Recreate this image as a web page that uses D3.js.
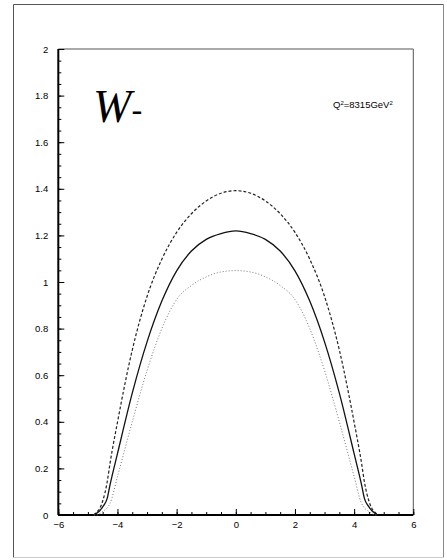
<!DOCTYPE html>
<html>
<head>
<meta charset="utf-8">
<script src="https://cdn.jsdelivr.net/npm/d3@7"></script>
<style>
  html, body { margin: 0; padding: 0; background: #fff; }
  svg { display: block; }
</style>
</head>
<body>
<svg id="chart" width="447" height="560"></svg>
<script>
// Rapidity grid shared by the three curves
const rapidity = [-4.8, -4.7, -4.6, -4.5, -4.35, -4.25, -4.0, -3.5, -3.0, -2.5, -2.0, -1.5, -1.0, -0.5,
                  0, 0.5, 1.0, 1.5, 2.0, 2.5, 3.0, 3.5, 4.0, 4.25, 4.35, 4.5, 4.6, 4.7, 4.8];

// Upper curve (dashed)
const upperValues = [0, 0.012, 0.028, 0.06, 0.14, 0.223, 0.398, 0.708, 0.938, 1.098, 1.213, 1.293, 1.348, 1.381,
                     1.392, 1.381, 1.348, 1.293, 1.213, 1.098, 0.938, 0.708, 0.398, 0.223, 0.14, 0.06, 0.028, 0.012, 0];

// Central curve (solid)
const centralValues = [0, 0.008, 0.018, 0.035, 0.07, 0.13, 0.263, 0.523, 0.743, 0.918, 1.048, 1.133, 1.183, 1.208,
                       1.219, 1.208, 1.183, 1.133, 1.048, 0.918, 0.743, 0.523, 0.263, 0.13, 0.07, 0.035, 0.018, 0.008, 0];

// Lower curve (dotted)
const lowerValues = [0, 0, 0.006, 0.015, 0.03, 0.05, 0.165, 0.40, 0.62, 0.80, 0.925, 0.985, 1.022, 1.043,
                     1.049, 1.043, 1.022, 0.985, 0.925, 0.80, 0.62, 0.40, 0.165, 0.05, 0.03, 0.015, 0.006, 0, 0];

const xMajorTicks = [-6, -4, -2, 0, 2, 4, 6];
const xTickLabels = ["\u22126", "\u22124", "\u22122", "0", "2", "4", "6"];
const yMajorTicks = [0, 0.2, 0.4, 0.6, 0.8, 1.0, 1.2, 1.4, 1.6, 1.8, 2.0];
const yTickLabels = ["0", "0.2", "0.4", "0.6", "0.8", "1", "1.2", "1.4", "1.6", "1.8", "2"];
const xMinorTicks = d3.range(-6, 6.001, 0.5);
const yMinorTicks = d3.range(0, 2.001, 0.05);

const SANS = "'Liberation Sans', Arial, Helvetica, sans-serif";
const SERIF = "'Liberation Serif', 'DejaVu Serif', serif";

const svg = d3.select("#chart");

// Page frame
svg.append("line").attr("x1", 13.5).attr("y1", 4.5).attr("x2", 13.5).attr("y2", 557.5)
  .attr("stroke", "#555").attr("stroke-width", 1);
svg.append("line").attr("x1", 13.5).attr("y1", 4.5).attr("x2", 443.5).attr("y2", 4.5)
  .attr("stroke", "#555").attr("stroke-width", 1);
svg.append("line").attr("x1", 443.5).attr("y1", 4.5).attr("x2", 443.5).attr("y2", 557.5)
  .attr("stroke", "#888").attr("stroke-width", 1);
svg.append("line").attr("x1", 13.5).attr("y1", 557.5).attr("x2", 443.5).attr("y2", 557.5)
  .attr("stroke", "#ccc").attr("stroke-width", 1);

const x = d3.scaleLinear().domain([-6, 6]).range([58.3, 413.3]);
const y = d3.scaleLinear().domain([0, 2]).range([515, 49]);

// Plot box: thin top/right edges
svg.append("line").attr("x1", x(-6)).attr("y1", y(2)).attr("x2", x(6)).attr("y2", y(2))
  .attr("stroke", "#555").attr("stroke-width", 1);
svg.append("line").attr("x1", x(6)).attr("y1", y(2)).attr("x2", x(6)).attr("y2", y(0))
  .attr("stroke", "#555").attr("stroke-width", 1);

// Minor ticks (inward)
svg.append("g").attr("transform", `translate(0,${y(0)})`)
  .call(d3.axisBottom(x).tickValues(xMinorTicks).tickSize(-3).tickFormat(""))
  .call(g => g.select(".domain").remove());
svg.append("g").attr("transform", `translate(${x(-6)},0)`)
  .call(d3.axisLeft(y).tickValues(yMinorTicks).tickSize(-3).tickFormat(""))
  .call(g => g.select(".domain").remove());

// Major ticks with labels
const xAxis = svg.append("g").attr("transform", `translate(0,${y(0)})`)
  .call(d3.axisBottom(x).tickValues(xMajorTicks).tickSize(-6).tickPadding(6)
    .tickFormat((d, i) => xTickLabels[i]));
xAxis.select(".domain").remove();
xAxis.attr("font-size", null).attr("font-family", null);
xAxis.selectAll("text").style("font-size", "9.5px").style("font-family", SANS).attr("fill", "#000");

const yAxis = svg.append("g").attr("transform", `translate(${x(-6)},0)`)
  .call(d3.axisLeft(y).tickValues(yMajorTicks).tickSize(-6).tickPadding(10)
    .tickFormat((d, i) => yTickLabels[i]));
yAxis.select(".domain").remove();
yAxis.attr("font-size", null).attr("font-family", null);
yAxis.selectAll("text").style("font-size", "9.5px").style("font-family", SANS).attr("fill", "#000");

// Thick left and bottom axis lines
svg.append("line").attr("x1", x(-6)).attr("y1", y(0)).attr("x2", x(6)).attr("y2", y(0))
  .attr("stroke", "#000").attr("stroke-width", 2);
svg.append("line").attr("x1", x(-6)).attr("y1", y(0)).attr("x2", x(-6)).attr("y2", y(2))
  .attr("stroke", "#000").attr("stroke-width", 2);

// Curves
const line = (vals) => d3.line()
  .x((d, i) => x(rapidity[i]))
  .y((d) => y(d))
  .curve(d3.curveMonotoneX)(vals);

svg.append("path").attr("d", line(upperValues))
  .attr("fill", "none").attr("stroke", "#222").attr("stroke-width", 1.2)
  .attr("stroke-dasharray", "3,2");
svg.append("path").attr("d", line(centralValues))
  .attr("fill", "none").attr("stroke", "#111").attr("stroke-width", 1.3);
svg.append("path").attr("d", line(lowerValues))
  .attr("fill", "none").attr("stroke", "#777").attr("stroke-width", 1)
  .attr("stroke-dasharray", "1,2");

// Process label
const proc = svg.append("text").attr("x", 93).attr("y", 122);
proc.append("tspan").style("font-family", SERIF).style("font-style", "italic")
  .style("font-size", "46px").text("W");
proc.append("tspan").style("font-family", SANS).style("font-size", "34px").text("-");

// Scale label
const q = svg.append("text").attr("x", 333).attr("y", 108)
  .style("font-family", SANS).style("font-size", "9.5px");
q.append("tspan").text("Q");
q.append("tspan").style("font-size", "6px").attr("dy", -3.5).text("2");
q.append("tspan").attr("dy", 3.5).text("=8315GeV");
q.append("tspan").style("font-size", "6px").attr("dy", -3.5).text("2");
</script>
</body>
</html>
